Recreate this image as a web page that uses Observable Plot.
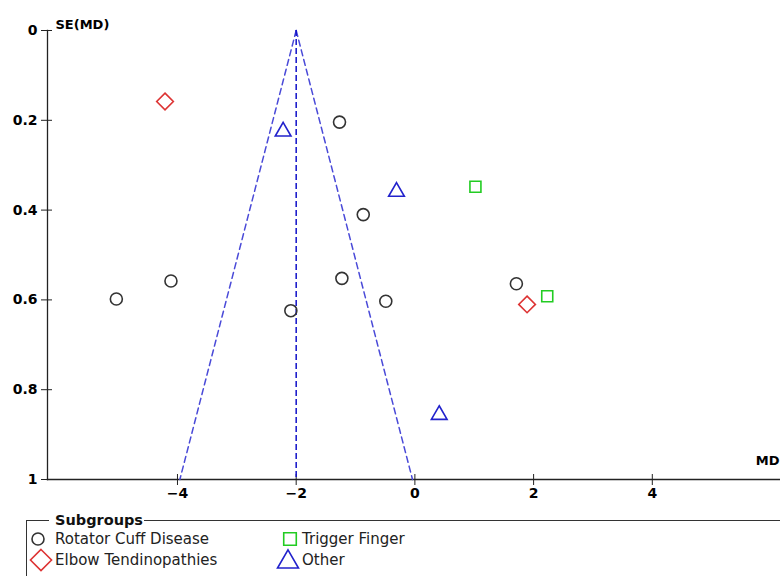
<!DOCTYPE html>
<html>
<head>
<meta charset="utf-8">
<script src="https://cdn.jsdelivr.net/npm/d3@7"></script>
<script src="https://cdn.jsdelivr.net/npm/@observablehq/plot@0.6"></script>
<style>
  html, body { margin: 0; padding: 0; background: #fff; }
  body { width: 780px; height: 576px; overflow: hidden; position: relative; font-family: "DejaVu Sans", sans-serif; }
  #chart { position: absolute; left: 0; top: 0; }
  #chart svg { overflow: visible; }
  .box { position: absolute; left: 26px; top: 520px; width: 820px; height: 120px; border: 1.3px solid #333; box-sizing: border-box; }
  .box .title { position: absolute; left: 22px; top: -10px; background: #fff; padding: 0 1px 0 6px; font-weight: bold; font-size: 14.5px; line-height: 18px; color: #111; }
  .item { position: absolute; font-size: 15px; line-height: 20px; color: #222; white-space: nowrap; }
  .sw { position: absolute; }
</style>
</head>
<body>
<div id="chart"></div>
<div class="box"><span class="title">Subgroups</span></div>
<div id="legend"></div>
<script>
// ---- data ----
const groups = ["Rotator Cuff Disease", "Elbow Tendinopathies", "Trigger Finger", "Other"];

const rotatorMD = [-5.03, -4.11, -2.09, -1.27, -0.87, -1.23, -0.49, 1.71];
const rotatorSE = [0.598, 0.558, 0.624, 0.204, 0.410, 0.552, 0.603, 0.564];

const elbowMD = [-4.21, 1.89];
const elbowSE = [0.158, 0.610];

const triggerMD = [1.02, 2.23];
const triggerSE = [0.348, 0.592];

const otherMD = [-2.22, -0.31, 0.41];
const otherSE = [0.225, 0.359, 0.856];

const pooledMD = -2.0;
const funnelSE = [0, 1];

const xTicks = [-4, -2, 0, 2, 4];
const xTickLabels = ["\u22124", "\u22122", "0", "2", "4"];
const yTicks = [0, 0.2, 0.4, 0.6, 0.8, 1];
const yTickLabels = ["0", "0.2", "0.4", "0.6", "0.8", "1"];

const toRows = (mds, ses) => mds.map((md, i) => ({ md, se: ses[i] }));
const rotator = toRows(rotatorMD, rotatorSE);
const elbow = toRows(elbowMD, elbowSE);
const trigger = toRows(triggerMD, triggerSE);
const other = toRows(otherMD, otherSE);

const colCircle = "#333333", colDiamond = "#dd3333", colSquare = "#22cc22", colTri = "#2222cc";

const chart = Plot.plot({
  width: 780,
  height: 512,
  marginLeft: 47,
  marginRight: 0,
  marginTop: 30,
  marginBottom: 33,
  style: { fontFamily: "DejaVu Sans, sans-serif", background: "white", color: "#000" },
  x: { domain: [-6.19, 6.16] },
  y: { domain: [0, 1], reverse: true },
  marks: [
    Plot.frame({ anchor: "left", stroke: "#222", strokeWidth: 1.3 }),
    Plot.frame({ anchor: "bottom", stroke: "#222", strokeWidth: 1.3 }),
    Plot.axisY({ ticks: yTicks, tickFormat: d => yTickLabels[yTicks.indexOf(d)], tickSize: 11, dx: 5, tickPadding: 4,
      fontSize: 14, fontWeight: "bold", label: null, stroke: "#222" }),
    Plot.axisX({ ticks: xTicks, tickFormat: d => xTickLabels[xTicks.indexOf(d)], tickSize: 11, dy: -5, tickPadding: 3,
      fontSize: 14, fontWeight: "bold", label: null, stroke: "#222" }),
    Plot.line(funnelSE, { x: se => pooledMD - 1.96 * se, y: se => se, stroke: "#4a4ad8", strokeWidth: 1.5, strokeDasharray: "6,4" }),
    Plot.line(funnelSE, { x: se => pooledMD + 1.96 * se, y: se => se, stroke: "#4a4ad8", strokeWidth: 1.5, strokeDasharray: "6,4" }),
    Plot.ruleX([pooledMD], { y1: funnelSE[0], y2: funnelSE[1], stroke: "#1010c8", strokeWidth: 1.5, strokeDasharray: "6,3" }),
    Plot.dot(rotator, { x: "md", y: "se", symbol: "circle", r: 6, stroke: colCircle, strokeWidth: 1.6, fill: "none" }),
    Plot.dot(elbow, { x: "md", y: "se", symbol: "diamond2", r: 7.5, stroke: colDiamond, strokeWidth: 1.6, fill: "none" }),
    Plot.dot(trigger, { x: "md", y: "se", symbol: "square2", r: 7, stroke: colSquare, strokeWidth: 1.6, fill: "none" }),
    Plot.dot(other, { x: "md", y: "se", symbol: "triangle2", r: 7.5, stroke: colTri, strokeWidth: 1.6, fill: "none" }),
    Plot.text(["SE(MD)"], { frameAnchor: "top-left", text: d => d, dx: 8, dy: -11, textAnchor: "start", fontWeight: "bold", fontSize: 13, fill: "#000" }),
    Plot.text(["MD"], { frameAnchor: "bottom-right", text: d => d, dx: -1, dy: -15, textAnchor: "end", fontWeight: "bold", fontSize: 13, fill: "#000" })
  ]
});
document.getElementById("chart").appendChild(chart);

// ---- legend ----
const legendItems = [
  { label: groups[0], sym: d3.symbolCircle, r: 6, color: colCircle, cx: 37.5, cy: 539.3, tx: 55, ty: 529 },
  { label: groups[1], sym: d3.symbolDiamond2, r: 9.5, color: colDiamond, cx: 41, cy: 559.5, tx: 55, ty: 550 },
  { label: groups[2], sym: d3.symbolSquare2, r: 8, color: colSquare, cx: 289.5, cy: 538.7, tx: 302, ty: 529 },
  { label: groups[3], sym: d3.symbolTriangle2, r: 10, color: colTri, cx: 288, cy: 561.5, tx: 302, ty: 550 }
];
const leg = d3.select("#legend");
legendItems.forEach(it => {
  const s = 30;
  const svg = leg.append("svg").attr("class", "sw").attr("width", s).attr("height", s)
    .style("left", (it.cx - s / 2) + "px").style("top", (it.cy - s / 2) + "px");
  svg.append("path")
    .attr("transform", `translate(${s / 2},${s / 2})`)
    .attr("d", d3.symbol(it.sym, Math.PI * it.r * it.r)())
    .attr("fill", "none").attr("stroke", it.color).attr("stroke-width", 1.6);
  leg.append("div").attr("class", "item")
    .style("left", it.tx + "px").style("top", it.ty + "px")
    .text(it.label);
});
</script>
</body>
</html>
